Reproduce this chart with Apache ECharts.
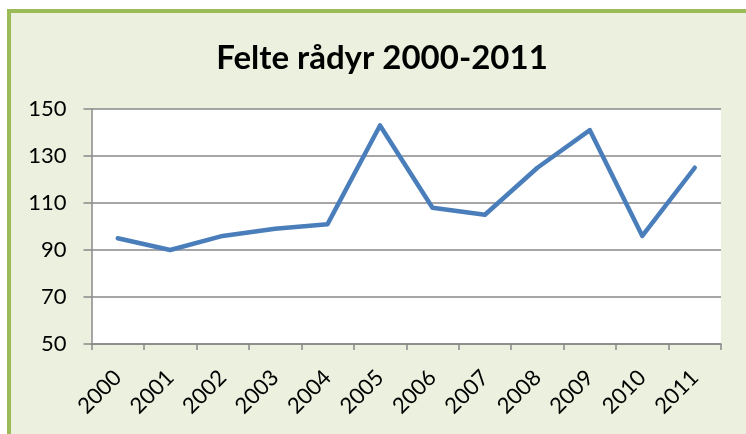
<!DOCTYPE html>
<html lang="nb">
<head>
    <meta charset="UTF-8">
    <title>Felte rådyr 2000-2011</title>
    <style>
        html, body {
            margin: 0;
            padding: 0;
            width: 746px;
            height: 434px;
            overflow: hidden;
            background: #ffffff;
        }
        #frame {
            position: absolute;
            left: 7px;
            top: 9px;
            width: 760px;
            height: 450px;
            background: #EBF1DE;
            border: 4px solid #9BBB59;
        }
        #main {
            position: absolute;
            left: 0;
            top: 0;
            width: 746px;
            height: 434px;
        }
    </style>
</head>
<body>
<script src="https://cdn.jsdelivr.net/npm/echarts@6/dist/echarts.min.js"></script>
<div id="frame"></div>
<div id="main"></div>
<script>
    // data
    var years = ['2000', '2001', '2002', '2003', '2004', '2005', '2006', '2007', '2008', '2009', '2010', '2011'];
    var felte = [95, 90, 96, 99, 101, 143, 108, 105, 125, 141, 96, 125];

    var chart = echarts.init(document.getElementById('main'));
    var fontFam = 'Lato';

    var option = {
        animation: false,
        backgroundColor: 'transparent',
        title: {
            text: 'Felte rådyr 2000-2011',
            left: 377,
            textAlign: 'center',
            top: 37,
            textStyle: {
                fontFamily: fontFam,
                fontWeight: 'bold',
                fontSize: 33,
                color: '#000'
            }
        },
        grid: {
            left: 91.5,
            right: 25,
            top: 109,
            bottom: 90,
            show: true,
            backgroundColor: '#ffffff',
            borderWidth: 0
        },
        xAxis: {
            type: 'category',
            data: years,
            boundaryGap: true,
            axisLine: { lineStyle: { color: '#888', width: 1.5 } },
            axisTick: { show: true, length: 6, lineStyle: { color: '#888', width: 1.5 } },
            axisLabel: {
                rotate: 45,
                margin: 30,
                fontFamily: fontFam,
                fontSize: 22,
                color: '#000'
            }
        },
        yAxis: {
            type: 'value',
            min: 50,
            max: 150,
            interval: 20,
            axisLine: { show: true, lineStyle: { color: '#888', width: 1.5 } },
            axisTick: { show: true, length: 8, lineStyle: { color: '#888', width: 1.5 } },
            splitLine: { lineStyle: { color: '#888', width: 1.5 } },
            axisLabel: {
                margin: 25,
                fontFamily: fontFam,
                fontSize: 22,
                color: '#000'
            }
        },
        series: [{
            type: 'line',
            data: felte,
            showSymbol: false,
            symbol: 'none',
            lineStyle: { color: '#4A7EBB', width: 4.5, cap: 'round', join: 'round' }
        }]
    };

    chart.setOption(option);
</script>
</body>
</html>
